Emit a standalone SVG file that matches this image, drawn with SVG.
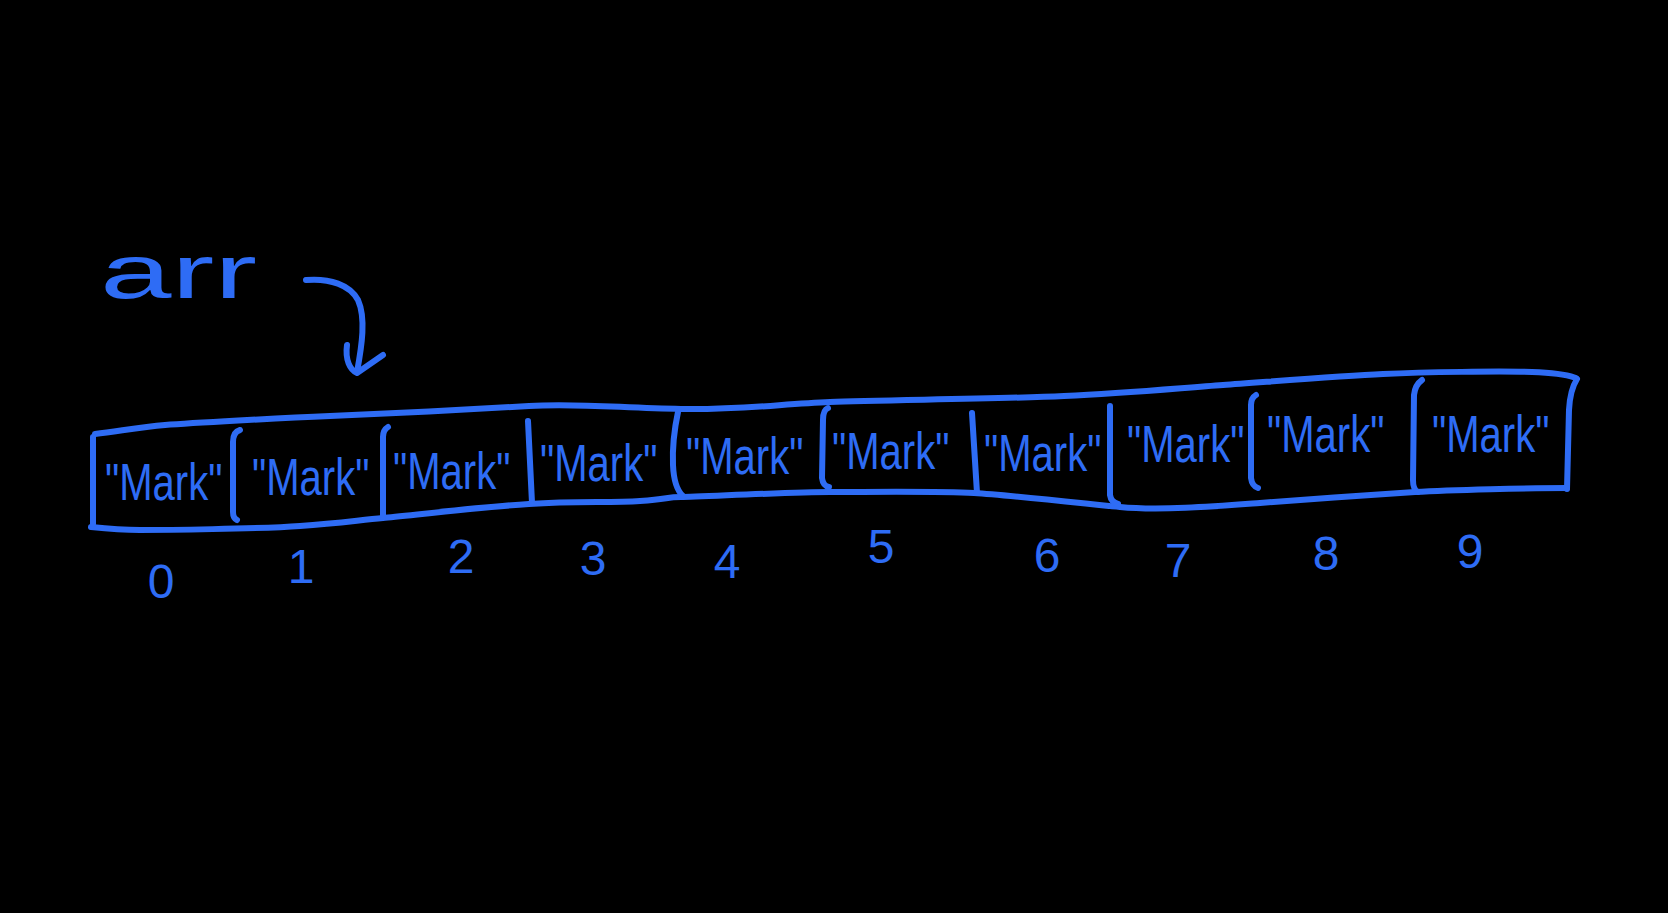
<svg xmlns="http://www.w3.org/2000/svg" width="1668" height="913" viewBox="0 0 1668 913">
<defs>
<style>
.ln{fill:none;stroke:#2E6CF5;stroke-width:6;stroke-linecap:round;stroke-linejoin:round}
.lbl{fill:#2E6CF5;font-family:"Liberation Sans",Arial,sans-serif;font-size:52px}
.idx{fill:#2E6CF5;font-family:"Liberation Sans",Arial,sans-serif;font-size:48px;text-anchor:middle}
</style>
</defs>
<rect width="1668" height="913" fill="#000"/>
<g id="title">
<text x="100" y="298" style="fill:#2E6CF5;font-family:'Liberation Sans',Arial,sans-serif;font-size:76px" textLength="157" lengthAdjust="spacingAndGlyphs">arr</text>
</g>
<g id="connectors">
<path class="ln" d="M306,280 C330,278 350,285 358,300 C366,318 362,345 357,372"/>
<path class="ln" d="M347,345 C345,360 350,370 357,373 L383,355"/>
</g>
<g id="array-outline">
<path class="ln" d="M95,434 C120,431 140,427 165,425 S280,418 330,416 S480,409 529,406 S620,408 681,409 S780,404 830,402 S1000,399 1064,396 S1180,388 1223,385 S1340,376 1383,374 S1500,371 1532,372 S1570,376 1576,378"/>
<path class="ln" d="M1577,379 Q1570,390 1569,410 L1567,489"/>
<path class="ln" d="M91,527 C110,529 120,530 140,530 S260,529 300,526 S360,520 383,518 S480,507 529,504 S610,503 640,501 S665,497 681,497 S790,492 830,492 S940,491 974,493 S1080,503 1120,507 S1220,506 1260,503 S1380,494 1415,492 S1530,488 1567,488"/>
<path class="ln" d="M93,437 L93,524"/>
<path class="ln" d="M240,430 Q233,432 233,442 L233,512 Q233,518 237,520"/>
<path class="ln" d="M388,427 Q383,430 383,437 L383,517"/>
<path class="ln" d="M528,421 L532,503"/>
<path class="ln" d="M678,412 Q672,440 673,465 Q674,488 683,496"/>
<path class="ln" d="M828,408 Q823,410 823,420 L822,478 Q823,486 829,487"/>
<path class="ln" d="M972,413 L977,493"/>
<path class="ln" d="M1110,406 L1110,495 Q1111,502 1118,504"/>
<path class="ln" d="M1256,395 Q1251,398 1251,405 L1251,478 Q1252,486 1258,488"/>
<path class="ln" d="M1422,380 Q1415,385 1414,395 L1413,480 Q1413,490 1418,492"/>
</g>
<g id="cell-0"><text class="lbl" transform="translate(105,500) scale(0.77,1)">"Mark"</text><text class="idx" x="161" y="598">0</text></g>
<g id="cell-1"><text class="lbl" transform="translate(252,495) scale(0.77,1)">"Mark"</text><text class="idx" x="301" y="583">1</text></g>
<g id="cell-2"><text class="lbl" transform="translate(393,489) scale(0.77,1)">"Mark"</text><text class="idx" x="461" y="573">2</text></g>
<g id="cell-3"><text class="lbl" transform="translate(540,481) scale(0.77,1)">"Mark"</text><text class="idx" x="593" y="575">3</text></g>
<g id="cell-4"><text class="lbl" transform="translate(686,474) scale(0.77,1)">"Mark"</text><text class="idx" x="727" y="578">4</text></g>
<g id="cell-5"><text class="lbl" transform="translate(832,469) scale(0.77,1)">"Mark"</text><text class="idx" x="881" y="563">5</text></g>
<g id="cell-6"><text class="lbl" transform="translate(984,471) scale(0.77,1)">"Mark"</text><text class="idx" x="1047" y="572">6</text></g>
<g id="cell-7"><text class="lbl" transform="translate(1127,462) scale(0.77,1)">"Mark"</text><text class="idx" x="1178" y="577">7</text></g>
<g id="cell-8"><text class="lbl" transform="translate(1267,452) scale(0.77,1)">"Mark"</text><text class="idx" x="1326" y="570">8</text></g>
<g id="cell-9"><text class="lbl" transform="translate(1432,452) scale(0.77,1)">"Mark"</text><text class="idx" x="1470" y="568">9</text></g>
</svg>
